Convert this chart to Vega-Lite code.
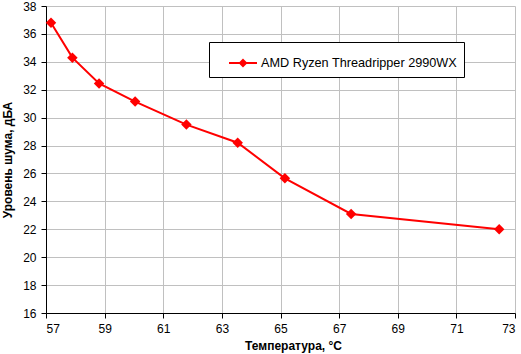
{
  "$schema": "https://vega.github.io/schema/vega-lite/v6.json",
  "autosize": "none",
  "width": 469,
  "height": 307,
  "padding": {"left": 46, "top": 6, "right": 6, "bottom": 41},
  "background": "white",
  "data": {
    "values": [
      {"t": 57.17, "n": 36.8, "series": "AMD Ryzen Threadripper 2990WX"},
      {"t": 57.9, "n": 34.3, "series": "AMD Ryzen Threadripper 2990WX"},
      {"t": 58.81, "n": 32.45, "series": "AMD Ryzen Threadripper 2990WX"},
      {"t": 60.04, "n": 31.15, "series": "AMD Ryzen Threadripper 2990WX"},
      {"t": 61.79, "n": 29.5, "series": "AMD Ryzen Threadripper 2990WX"},
      {"t": 63.54, "n": 28.2, "series": "AMD Ryzen Threadripper 2990WX"},
      {"t": 65.15, "n": 25.65, "series": "AMD Ryzen Threadripper 2990WX"},
      {"t": 67.41, "n": 23.1, "series": "AMD Ryzen Threadripper 2990WX"},
      {"t": 72.46, "n": 22.0, "series": "AMD Ryzen Threadripper 2990WX"}
    ]
  },
  "encoding": {
    "x": {
      "field": "t", "type": "quantitative",
      "scale": {"domain": [57, 73], "nice": false, "zero": false},
      "axis": {
        "values": [57, 59, 61, 63, 65, 67, 69, 71, 73],
        "title": "Температура, °C",
        "titleX": 247, "titleY": 36, "titleBaseline": "alphabetic",
        "labelPadding": 5
      }
    },
    "y": {
      "field": "n", "type": "quantitative",
      "scale": {"domain": [16, 38], "nice": false, "zero": false},
      "axis": {
        "values": [16, 18, 20, 22, 24, 26, 28, 30, 32, 34, 36, 38],
        "title": "Уровень шума, дБА",
        "titlePadding": 8,
        "labelPadding": 5
      }
    },
    "color": {
      "field": "series", "type": "nominal",
      "scale": {"range": ["#ff0000"]},
      "legend": {
        "title": null,
        "orient": "none",
        "legendX": 163,
        "legendY": 36,
        "symbolType": "M-1,0H1M0,-0.22L0.22,0L0,0.22L-0.22,0Z",
        "symbolSize": 784,
        "symbolStrokeWidth": 2,
        "symbolStrokeColor": "#ff0000",
        "symbolFillColor": "#ff0000",
        "symbolOffset": 13,
        "labelOffset": 3,
        "labelLimit": 400,
        "labelFontSize": 12.7,
        "padding": 6
      }
    }
  },
  "layer": [
    {"mark": {"type": "line", "strokeWidth": 2, "color": "#ff0000"}},
    {"mark": {"type": "point", "shape": "diamond", "filled": true, "size": 110, "opacity": 1, "color": "#ff0000"}}
  ],
  "config": {
    "view": {"stroke": null},
    "font": "Liberation Sans",
    "axis": {
      "domainColor": "#000000",
      "domainWidth": 1,
      "tickColor": "#000000",
      "tickSize": 5,
      "gridColor": "#c0c0c0",
      "gridWidth": 1,
      "grid": true,
      "labelFont": "Liberation Sans",
      "labelFontSize": 12,
      "labelColor": "#000000",
      "titleFont": "Liberation Sans",
      "titleFontSize": 12,
      "titleFontWeight": "bold",
      "titleColor": "#000000"
    },
    "legend": {
      "strokeColor": "#000000",
      "fillColor": "#ffffff",
      "labelFont": "Liberation Sans",
      "labelColor": "#000000"
    }
  }
}
